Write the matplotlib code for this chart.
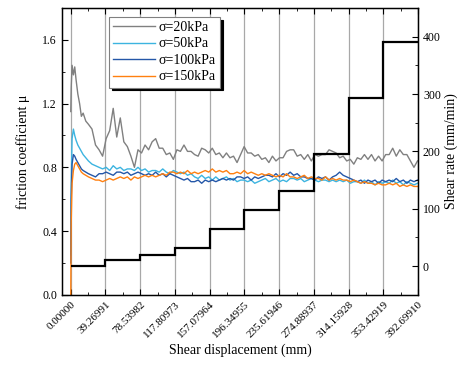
import matplotlib
matplotlib.use("Agg")
import matplotlib.pyplot as plt
from matplotlib.ticker import MultipleLocator, AutoMinorLocator

plt.rcParams['font.family'] = ['Liberation Serif', 'DejaVu Serif']

# ---- data ----
x_early = [0, 0.5, 1.5, 3, 4.5, 6, 8, 10, 12, 14, 17, 20]
x_late = list(range(24, 393, 4))
x_disp = x_early + x_late

mu_20 = [1.15, 1.30, 1.44, 1.38, 1.43, 1.35, 1.26, 1.20, 1.12, 1.14, 1.09, 1.07,
         1.04, 0.94, 0.91, 0.87, 0.98, 1.03, 1.17, 0.99, 1.11, 0.96, 0.93, 0.87,
         0.80, 0.91, 0.89, 0.94, 0.91, 0.96, 0.98, 0.92, 0.92, 0.88, 0.89, 0.85,
         0.91, 0.90, 0.94, 0.90, 0.90, 0.88, 0.87, 0.92, 0.91, 0.89, 0.92, 0.88,
         0.89, 0.86, 0.89, 0.86, 0.87, 0.83, 0.88, 0.93, 0.89, 0.89, 0.87, 0.88,
         0.85, 0.86, 0.83, 0.87, 0.84, 0.86, 0.86, 0.90, 0.91, 0.91, 0.87, 0.88,
         0.85, 0.88, 0.84, 0.88, 0.87, 0.88, 0.88, 0.91, 0.90, 0.89, 0.86, 0.87,
         0.84, 0.85, 0.82, 0.86, 0.85, 0.88, 0.85, 0.88, 0.84, 0.87, 0.84, 0.88,
         0.88, 0.92, 0.87, 0.91, 0.88, 0.88, 0.84, 0.80, 0.84]

mu_50 = [0.25, 0.70, 0.98, 1.04, 1.00, 0.97, 0.94, 0.92, 0.90, 0.88, 0.86, 0.84,
         0.82, 0.81, 0.80, 0.79, 0.80, 0.78, 0.81, 0.79, 0.80, 0.78, 0.79, 0.79,
         0.78, 0.80, 0.78, 0.79, 0.77, 0.78, 0.78, 0.77, 0.79, 0.77, 0.76, 0.78,
         0.77, 0.76, 0.77, 0.75, 0.76, 0.74, 0.73, 0.75, 0.73, 0.74, 0.72, 0.74,
         0.72, 0.73, 0.74, 0.72, 0.73, 0.71, 0.72, 0.72, 0.71, 0.72, 0.70, 0.71,
         0.72, 0.73, 0.71, 0.72, 0.73, 0.71, 0.72, 0.71, 0.73, 0.73, 0.72, 0.73,
         0.71, 0.72, 0.73, 0.72, 0.71, 0.72, 0.72, 0.71, 0.72, 0.71, 0.72, 0.71,
         0.72, 0.70, 0.71, 0.71, 0.70, 0.72, 0.70, 0.71, 0.69, 0.71, 0.70, 0.71,
         0.70, 0.72, 0.70, 0.71, 0.69, 0.71, 0.70, 0.69, 0.70]

mu_100 = [0.20, 0.60, 0.82, 0.88, 0.87, 0.85, 0.83, 0.81, 0.79, 0.78, 0.77, 0.76,
          0.75, 0.74, 0.76, 0.76, 0.77, 0.76, 0.75, 0.77, 0.77, 0.76, 0.77, 0.75,
          0.76, 0.77, 0.76, 0.75, 0.76, 0.75, 0.77, 0.75, 0.76, 0.74, 0.76, 0.75,
          0.74, 0.73, 0.72, 0.73, 0.71, 0.71, 0.72, 0.70, 0.72, 0.71, 0.72, 0.71,
          0.72, 0.73, 0.72, 0.73, 0.72, 0.74, 0.74, 0.73, 0.74, 0.72, 0.74, 0.73,
          0.74, 0.75, 0.75, 0.74, 0.76, 0.74, 0.76, 0.75, 0.77, 0.75, 0.76, 0.74,
          0.74, 0.73, 0.73, 0.72, 0.74, 0.73, 0.74, 0.72, 0.74, 0.75, 0.77, 0.75,
          0.74, 0.73, 0.72, 0.71, 0.72, 0.70, 0.72, 0.71, 0.72, 0.70, 0.72, 0.71,
          0.72, 0.71, 0.73, 0.71, 0.72, 0.70, 0.72, 0.71, 0.72]

mu_150 = [0.00, 0.45, 0.70, 0.78, 0.82, 0.83, 0.81, 0.79, 0.77, 0.76, 0.75, 0.74,
          0.73, 0.72, 0.72, 0.71, 0.72, 0.73, 0.72, 0.73, 0.74, 0.73, 0.74, 0.72,
          0.74, 0.73, 0.74, 0.75, 0.74, 0.75, 0.74, 0.75, 0.76, 0.75, 0.77, 0.77,
          0.76, 0.77, 0.76, 0.78, 0.76, 0.77, 0.76, 0.77, 0.78, 0.77, 0.79, 0.77,
          0.78, 0.77, 0.78, 0.76, 0.76, 0.77, 0.76, 0.78, 0.76, 0.77, 0.76, 0.75,
          0.76, 0.75, 0.76, 0.75, 0.74, 0.75, 0.74, 0.76, 0.74, 0.74, 0.73, 0.74,
          0.75, 0.73, 0.74, 0.73, 0.73, 0.72, 0.74, 0.72, 0.73, 0.72, 0.73, 0.72,
          0.72, 0.71, 0.72, 0.71, 0.70, 0.71, 0.70, 0.70, 0.69, 0.70, 0.69, 0.69,
          0.70, 0.69, 0.70, 0.68, 0.69, 0.68, 0.69, 0.68, 0.68]

series_labels = ['σ=20kPa', 'σ=50kPa', 'σ=100kPa', 'σ=150kPa']
series_colors = ['#808080', '#3CB4E0', '#2457A8', '#FF8010']

tick_pos = [0.0, 39.26991, 78.53982, 117.80973, 157.07964, 196.34955,
            235.61946, 274.88937, 314.15928, 353.42919, 392.69910]
tick_labels = ['0.00000', '39.26991', '78.53982', '117.80973', '157.07964',
               '196.34955', '235.61946', '274.88937', '314.15928', '353.42919',
               '392.69910']

shear_rate = [0, 10, 20, 32, 64, 98, 131, 196, 293, 391]

# ---- figure ----
fig = plt.figure(figsize=(4.62, 3.78), dpi=100)
ax = fig.add_axes([0.134, 0.22, 0.771, 0.759])

for ys, lab, col in zip([mu_20, mu_50, mu_100, mu_150], series_labels, series_colors):
    ax.plot(x_disp, ys, color=col, lw=1.0, label=lab)

ax.set_xlim(-10, 392.69910)
ax.set_ylim(0, 1.8)
ax.set_xticks(tick_pos)
ax.set_xticklabels(tick_labels, rotation=45, ha='right', rotation_mode='anchor',
                   fontsize=8)
ax.xaxis.set_minor_locator(AutoMinorLocator(2))
ax.yaxis.set_major_locator(MultipleLocator(0.4))
ax.yaxis.set_minor_locator(MultipleLocator(0.2))
ax.tick_params(axis='y', labelsize=8.5)
ax.tick_params(which='both', direction='in', top=True)
ax.tick_params(which='major', length=4)
ax.tick_params(which='minor', length=2.5)
ax.xaxis.grid(True, which='major', color='#A8A8A8', lw=0.9)
ax.set_axisbelow(True)
for sp in ax.spines.values():
    sp.set_linewidth(1.0)

ax.set_xlabel('Shear displacement (mm)', fontsize=10, labelpad=3)
ax.set_ylabel('friction coefficient μ', fontsize=10, labelpad=9)

leg = ax.legend(loc='upper left', bbox_to_anchor=(0.132, 0.969),
                borderaxespad=0, fontsize=10, fancybox=False,
                edgecolor='#808080', framealpha=1, handlelength=3.0,
                handletextpad=0.3, labelspacing=0.25, borderpad=0.3,
                shadow={'color': 'black', 'alpha': 1.0})
leg.get_frame().set_linewidth(0.8)

ax2 = ax.twinx()
ax2.stairs(shear_rate, tick_pos, baseline=None, color='black', lw=1.6)
ax2.set_ylim(-50, 450)
ax2.yaxis.set_major_locator(MultipleLocator(100))
ax2.yaxis.set_minor_locator(MultipleLocator(50))
ax2.tick_params(which='both', direction='in', labelsize=8.5)
ax2.tick_params(which='major', length=4)
ax2.tick_params(which='minor', length=2.5)
ax2.set_ylabel('Shear rate (mm/min)', fontsize=10, labelpad=3)

fig.savefig('out.png', dpi=100)
